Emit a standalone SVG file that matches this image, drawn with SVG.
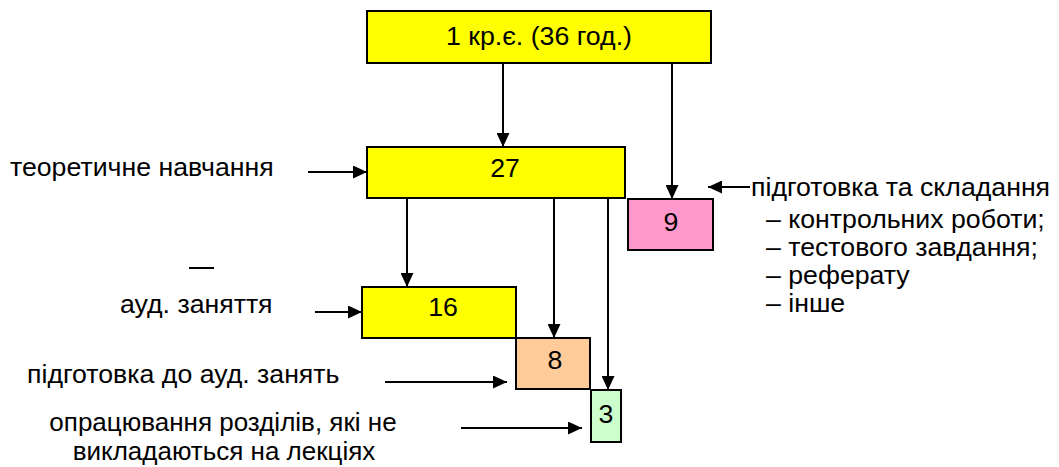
<svg xmlns="http://www.w3.org/2000/svg" width="1059" height="467" viewBox="0 0 1059 467">
<defs>
<marker id="ah" markerWidth="14" markerHeight="13" refX="14" refY="6.5" orient="auto" markerUnits="userSpaceOnUse">
<path d="M0,0 L14,6.5 L0,13 Z" fill="#000"/>
</marker>
<style>
.box{stroke:#000;stroke-width:2}
.t{font-family:"Liberation Sans",Arial,sans-serif;font-size:26.7px;fill:#000}
.s{font-size:26px}
.c{text-anchor:middle}
.ln{stroke:#000;stroke-width:2;fill:none}
.ar{stroke:#000;stroke-width:2;fill:none;marker-end:url(#ah)}
</style>
</defs>
<rect width="1059" height="467" fill="#fff"/>
<g id="n-total">
<rect class="box" x="367" y="11" width="344" height="52" fill="#ffff00"/>
<text class="t c" x="539" y="45">1 кр.є. (36 год.)</text>
</g>
<g id="n-theory">
<rect class="box" x="367" y="147" width="258" height="51" fill="#ffff00"/>
<text class="t c" x="505" y="177">27</text>
</g>
<g id="n-9">
<rect class="box" x="628" y="199" width="85" height="51" fill="#ff99cc"/>
<text class="t c" x="671" y="231">9</text>
</g>
<g id="n-16">
<rect class="box" x="362" y="287" width="154" height="51" fill="#ffff00"/>
<text class="t c" x="443" y="316">16</text>
</g>
<g id="n-8">
<rect class="box" x="516" y="338" width="74" height="51" fill="#ffcc99"/>
<text class="t c" x="555" y="369">8</text>
</g>
<g id="n-3">
<rect class="box" x="591" y="390" width="30" height="52" fill="#ccffcc"/>
<text class="t c" x="606" y="423">3</text>
</g>
<g id="labels">
<text class="t" x="10" y="176">теоретичне навчання</text>
<text class="t" x="120" y="313">ауд. заняття</text>
<text class="t" x="27" y="383">підготовка до ауд. занять</text>
<text class="t s c" x="223" y="431">опрацювання розділів, які не</text>
<text class="t s c" x="224" y="460">викладаються на лекціях</text>
<text class="t" x="751" y="196">підготовка та складання</text>
<text class="t" x="766" y="228">– контрольних роботи;</text>
<text class="t" x="766" y="256">– тестового завдання;</text>
<text class="t" x="766" y="284">– реферату</text>
<text class="t" x="766" y="312">– інше</text>
</g>
<g id="connectors">
<line class="ar" x1="503" y1="63" x2="503" y2="147"/>
<line class="ar" x1="672" y1="63" x2="672" y2="199"/>
<line class="ar" x1="407" y1="198" x2="407" y2="287"/>
<line class="ar" x1="554" y1="198" x2="554" y2="338"/>
<line class="ar" x1="608" y1="198" x2="608" y2="390"/>
<line class="ar" x1="308" y1="172" x2="367" y2="172"/>
<line class="ar" x1="315" y1="312" x2="362" y2="312"/>
<line class="ar" x1="385" y1="382" x2="507" y2="382"/>
<line class="ar" x1="461" y1="428" x2="582" y2="428"/>
<line class="ar" x1="750" y1="187" x2="708" y2="187"/>
<line class="ln" x1="189" y1="268" x2="214" y2="268" stroke-width="1.5"/>
</g>
</svg>
